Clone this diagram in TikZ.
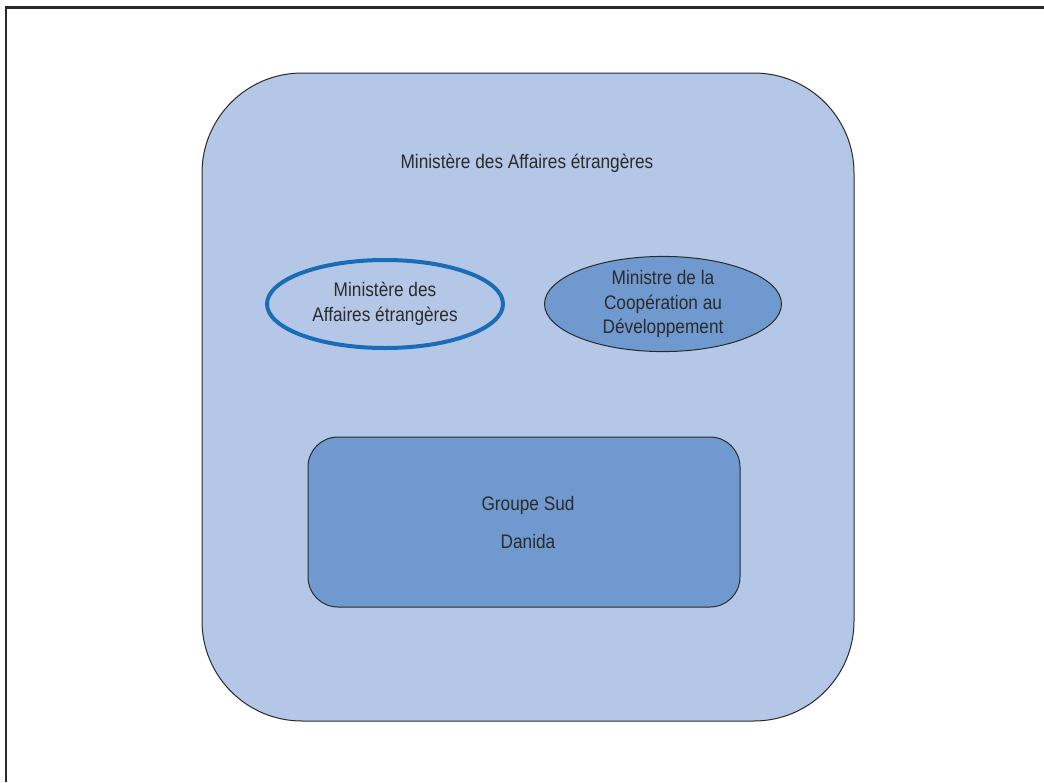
\documentclass[tikz,border=0pt]{standalone}
\usepackage{fontspec}
\setmainfont[FakeStretch=0.88]{Liberation Sans}
\usetikzlibrary{shapes.geometric}
\definecolor{lightbg}{HTML}{B4C7E7}
\definecolor{midblue}{HTML}{7099CF}
\definecolor{strongblue}{HTML}{1A6DB5}
\definecolor{txt}{HTML}{2B2B2B}
\definecolor{edge}{HTML}{2A2A2A}
\tikzset{
  lbl/.style={text=txt, font=\fontsize{19.6}{24.5}\selectfont, align=center},
}
\begin{document}
\begin{tikzpicture}[x=1pt,y=-1pt]
\useasboundingbox (0,0) rectangle (1044,782);
\fill[white] (0,0) rectangle (1044,782);
% frame (left and top only)
\draw[line width=2.2pt, edge] (6,782) -- (6,7.5) -- (1044,7.5);
% outer ministry box
\draw[fill=lightbg, draw=edge, line width=1pt, rounded corners=100pt] (202,73) rectangle (854,721);
\node[lbl] (mae) at (527,163) {Ministère des Affaires étrangères};
% ellipses
\node[ellipse, draw=strongblue, line width=4pt, fill=lightbg, minimum width=236pt, minimum height=88pt, inner sep=0pt, lbl] (e1) at (385,304) {Ministère des\\Affaires étrangères};
\node[ellipse, draw=edge, line width=1pt, fill=midblue, minimum width=237pt, minimum height=88pt, inner sep=0pt, lbl] (e2) at (663,304) {Ministre de la\\Coopération au\\Développement};
% groupe sud box
\draw[fill=midblue, draw=edge, line width=1pt, rounded corners=30pt] (308,437) rectangle (740,607);
\node[lbl] (gs) at (528,505) {Groupe Sud};
\node[lbl] (dan) at (528,541) {Danida};
\end{tikzpicture}
\end{document}
